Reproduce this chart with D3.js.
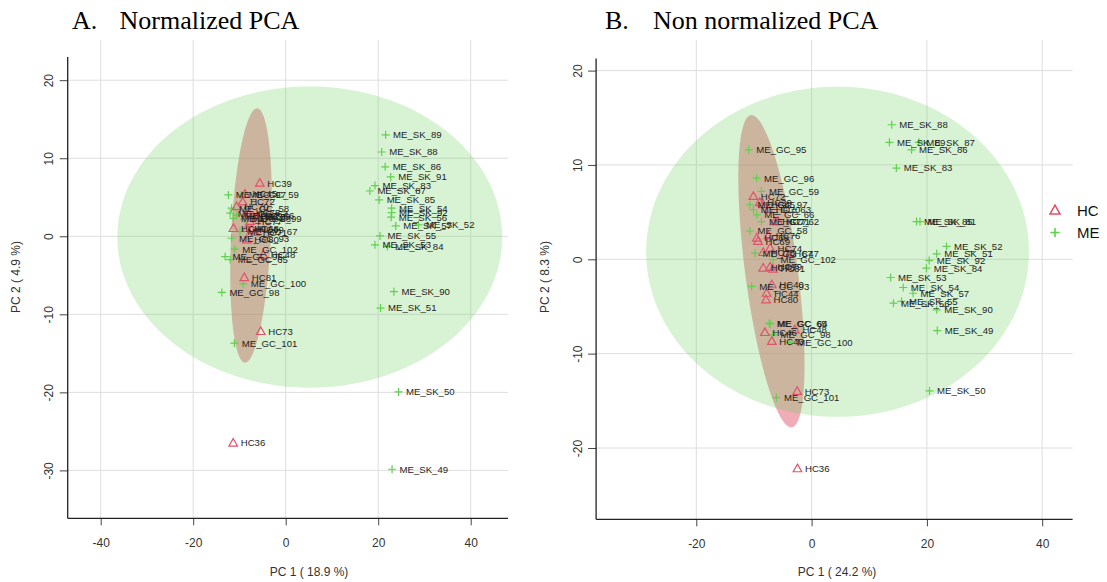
<!DOCTYPE html>
<html>
<head>
<meta charset="utf-8">
<script src="https://cdn.jsdelivr.net/npm/d3@7"></script>
<style>
body { margin: 0; background: #fff; }
svg { display: block; }
</style>
</head>
<body>
<svg id="chart" width="1107" height="582"></svg>
<script>
// ---- data ----
var titlesA = ["A.", "Normalized PCA"];
var titlesB = ["B.", "Non normalized PCA"];
var xLabelA = "PC 1 ( 18.9 %)", yLabelA = "PC 2 ( 4.9 %)";
var xLabelB = "PC 1 ( 24.2 %)", yLabelB = "PC 2 ( 8.3 %)";
var groups = ["HC", "ME"];

var xTicksA = [-40, -20, 0, 20, 40];
var yTicksA = [-30, -20, -10, 0, 10, 20];
var xTicksB = [-20, 0, 20, 40];
var yTicksB = [-20, -10, 0, 10, 20];

// [name, PC1, PC2]
var hcA = [
  ["HC39", -5.6, 6.8], ["HC45", -8.8, 5.4], ["HC72", -9.3, 4.4], ["HC70", -10.6, 3.8],
  ["HC75", -8.1, 3.0], ["HC76", -7.0, 2.5], ["HC77", -7.7, 1.9], ["HC79", -5.9, 2.5],
  ["HC44", -8.6, 2.6], ["HC40", -11.3, 1.0], ["HC68", -8.4, 1.0], ["HC69", -7.35, 0.8],
  ["HC71", -6.6, 0.5], ["HC80", -8.4, -0.46], ["HC48", -4.85, -2.4], ["HC81", -8.95, -5.3],
  ["HC73", -5.4, -12.2], ["HC36", -11.35, -26.5]
];
var meA = [
  ["ME_GC_97", -12.4, 5.3], ["ME_GC_59", -9.6, 5.3], ["ME_GC_58", -11.7, 3.6],
  ["ME_GC_62", -12.0, 2.96], ["ME_GC_63", -11.3, 2.3], ["ME_GC_66", -10.6, 2.7],
  ["ME_GC_99", -9.0, 2.2], ["ME_GC_67", -9.9, 0.6], ["ME_GC_93", -11.7, -0.25],
  ["ME_GC_102", -11.0, -1.65], ["ME_GC_96", -13.1, -2.6], ["ME_GC_65", -12.0, -3.0],
  ["ME_GC_100", -9.2, -6.1], ["ME_GC_98", -13.8, -7.2], ["ME_GC_101", -11.1, -13.7],
  ["ME_SK_89", 21.6, 13.0], ["ME_SK_88", 20.75, 10.8], ["ME_SK_86", 21.5, 8.9],
  ["ME_SK_91", 22.7, 7.6], ["ME_SK_83", 19.3, 6.5], ["ME_SK_87", 18.2, 5.8],
  ["ME_SK_85", 20.2, 4.66], ["ME_SK_54", 22.9, 3.6], ["ME_SK_92", 22.9, 3.03],
  ["ME_SK_56", 22.8, 2.45], ["ME_SK_52", 28.7, 1.46], ["ME_SK_57", 23.8, 1.33],
  ["ME_SK_55", 20.4, 0.05], ["ME_SK_53", 19.3, -1.1], ["ME_SK_84", 22.0, -1.3],
  ["ME_SK_90", 23.4, -7.1], ["ME_SK_51", 20.5, -9.2], ["ME_SK_50", 24.4, -19.95],
  ["ME_SK_49", 23.0, -29.85]
];
var hcB = [
  ["HC72", -10.1, 6.66], ["HC39", -9.0, 6.0], ["HC45", -8.4, 5.8], ["HC70", -7.5, 5.3],
  ["HC77", -6.4, 4.0], ["HC71", -5.8, 4.0], ["HC68", -9.5, 2.25], ["HC69", -9.3, 1.9],
  ["HC76", -7.5, 2.5], ["HC75", -8.4, 0.72], ["HC74", -7.2, 1.18], ["HC47", -4.3, 0.65],
  ["HC78", -8.4, -0.93], ["HC79", -7.2, -0.83], ["HC81", -6.7, -1.04], ["HC40", -6.9, -2.7],
  ["HC44", -7.8, -3.6], ["HC80", -7.9, -4.3], ["HC48", -2.9, -7.48], ["HC46", -8.1, -7.76],
  ["HC43", -6.9, -8.7], ["HC73", -2.5, -14.0], ["HC36", -2.45, -22.2]
];
var meB = [
  ["ME_GC_95", -10.9, 11.6], ["ME_GC_96", -9.54, 8.6], ["ME_GC_59", -8.7, 7.2],
  ["ME_GC_97", -10.7, 5.78], ["ME_GC_63", -10.1, 5.25], ["ME_GC_66", -9.5, 4.7],
  ["ME_GC_62", -8.7, 4.0], ["ME_GC_58", -10.7, 3.0], ["ME_GC_67", -9.8, 0.65],
  ["ME_GC_102", -6.7, -0.05], ["ME_GC_93", -10.4, -2.88], ["ME_GC_65", -7.35, -6.77],
  ["ME_GC_64", -7.2, -6.85], ["ME_GC_98", -6.7, -8.0], ["ME_GC_100", -3.8, -8.8],
  ["ME_GC_101", -6.1, -14.65],
  ["ME_SK_88", 13.9, 14.26], ["ME_SK_89", 13.5, 12.4], ["ME_SK_87", 18.6, 12.4],
  ["ME_SK_86", 17.35, 11.6], ["ME_SK_83", 14.7, 9.67], ["ME_SK_85", 18.2, 4.0],
  ["ME_SK_81", 18.8, 4.0], ["ME_SK_52", 23.4, 1.36], ["ME_SK_51", 21.7, 0.58],
  ["ME_SK_92", 20.4, -0.12], ["ME_SK_84", 19.9, -0.94], ["ME_SK_53", 13.7, -1.93],
  ["ME_SK_54", 15.9, -2.99], ["ME_SK_57", 17.6, -3.6], ["ME_SK_56", 14.2, -4.65],
  ["ME_SK_55", 15.6, -4.47], ["ME_SK_90", 21.7, -5.36], ["ME_SK_49", 21.8, -7.55],
  ["ME_SK_50", 20.45, -13.95]
];

// confidence ellipses: [cx, cy, ux, uy, vx, vy] (two conjugate semi-diameters)
var ellMEA = [5.2, -0.1, 0, 19.3, 41.6, 0];
var ellHCA = [-7.5, 0.1, 1.3, 16.3, 4.3, 0];
var ellMEB = [4.5, 0.8, 0, 17.5, 33.2, 0];
var ellHCB = [-6.97, -1.26, -3.44, 16.55, 4.6, 0];

var hcColor = "#df536b", meColor = "#61d04f";
var sans = "'Liberation Sans', Arial, sans-serif";
var serif = "'Liberation Serif', 'Times New Roman', serif";

var svg = d3.select("#chart");

function ellipsePts(e) {
  var pts = [];
  for (var i = 0; i < 144; i++) {
    var t = i / 144 * 2 * Math.PI;
    pts.push([e[0] + e[2] * Math.cos(t) + e[4] * Math.sin(t),
              e[1] + e[3] * Math.cos(t) + e[5] * Math.sin(t)]);
  }
  return pts;
}

var triPath = "M0,-4.6L4.3,3L-4.3,3Z";
var plusPath = "M-4,0H4M0,-4V4";

function drawPanel(p) {
  var x = p.x, y = p.y;
  var g = svg.append("g");

  // grid
  g.selectAll(".vgrid").data(p.xTicks).enter().append("line")
    .attr("x1", d => x(d)).attr("x2", d => x(d))
    .attr("y1", p.gridTop).attr("y2", p.bottom)
    .attr("stroke", "#dedede").attr("stroke-width", 1);
  g.selectAll(".hgrid").data(p.yTicks).enter().append("line")
    .attr("x1", p.left).attr("x2", p.right)
    .attr("y1", d => y(d)).attr("y2", d => y(d))
    .attr("stroke", "#dedede").attr("stroke-width", 1);

  // ellipses (HC first, the ME one is laid over it)
  var line = d3.line().x(d => x(d[0])).y(d => y(d[1])).curve(d3.curveLinearClosed);
  g.append("path").attr("d", line(ellipsePts(p.ellHC)))
    .attr("fill", hcColor).attr("fill-opacity", 0.48);
  g.append("path").attr("d", line(ellipsePts(p.ellME)))
    .attr("fill", meColor).attr("fill-opacity", 0.25);

  // axes
  var fmt = d => String(d);
  var xa = g.append("g").attr("transform", "translate(0," + p.bottom + ")")
    .call(d3.axisBottom(x).tickValues(p.xTicks).tickFormat(fmt).tickSize(7).tickPadding(13));
  var ya = g.append("g").attr("transform", "translate(" + p.left + ",0)")
    .call(d3.axisLeft(y).tickValues(p.yTicks).tickFormat(fmt).tickSize(8));
  [xa, ya].forEach(function(a) {
    a.select(".domain").remove();
    a.selectAll(".tick line").attr("stroke", "#444");
    a.selectAll(".tick text").attr("fill", "#333")
      .style("font-family", sans).style("font-size", "12px");
  });
  ya.selectAll(".tick text")
    .attr("transform", "rotate(-90)")
    .attr("x", 0).attr("y", -14.5).attr("dy", 0)
    .attr("text-anchor", "middle");
  g.append("line").attr("x1", p.left).attr("x2", p.right)
    .attr("y1", p.bottom).attr("y2", p.bottom)
    .attr("stroke", "#222").attr("stroke-width", 1.3);
  g.append("line").attr("x1", p.left).attr("x2", p.left)
    .attr("y1", p.top).attr("y2", p.bottom)
    .attr("stroke", "#222").attr("stroke-width", 1.3);

  // axis titles
  g.append("text").attr("x", p.xTitleX).attr("y", 576)
    .attr("text-anchor", "middle").attr("fill", "#333")
    .style("font-family", sans).style("font-size", "12px").text(p.xLabel);
  g.append("text")
    .attr("transform", "translate(" + p.yTitleX + ",277) rotate(-90)")
    .attr("text-anchor", "middle").attr("fill", "#333")
    .style("font-family", sans).style("font-size", "12px").text(p.yLabel);

  // panel title
  g.append("text").attr("x", p.titleX[0]).attr("y", 29)
    .style("font-family", serif).style("font-size", "26px").text(p.title[0]);
  g.append("text").attr("x", p.titleX[1]).attr("y", 29)
    .style("font-family", serif).style("font-size", "26px").text(p.title[1]);

  // points
  g.selectAll(".me").data(p.me).enter().append("path")
    .attr("transform", d => "translate(" + x(d[1]) + "," + y(d[2]) + ")")
    .attr("d", plusPath).attr("fill", "none")
    .attr("stroke", meColor).attr("stroke-width", 1.2);
  g.selectAll(".hc").data(p.hc).enter().append("path")
    .attr("transform", d => "translate(" + x(d[1]) + "," + y(d[2]) + ")")
    .attr("d", triPath).attr("fill", "none")
    .attr("stroke", hcColor).attr("stroke-width", 1.2);

  // labels
  g.selectAll(".lab").data(p.hc.concat(p.me)).enter().append("text")
    .attr("x", d => x(d[1]) + 7.5).attr("y", d => y(d[2]))
    .attr("dy", "0.35em").attr("fill", "#1e1e1e")
    .style("font-family", sans).style("font-size", "9.6px")
    .text(d => d[0]);
}

drawPanel({
  x: d3.scaleLinear().domain([-40, 40]).range([100.7, 470.7]),
  y: d3.scaleLinear().domain([-30, 20]).range([470.4, 80.2]),
  left: 67.7, right: 508, top: 57, gridTop: 40, bottom: 518.3,
  xTicks: xTicksA, yTicks: yTicksA,
  ellME: ellMEA, ellHC: ellHCA, hc: hcA, me: meA,
  xLabel: xLabelA, yLabel: yLabelA, xTitleX: 309, yTitleX: 20,
  title: titlesA, titleX: [72, 119.5]
});

drawPanel({
  x: d3.scaleLinear().domain([-20, 40]).range([696.3, 1042.2]),
  y: d3.scaleLinear().domain([-20, 20]).range([448, 70.6]),
  left: 596.1, right: 1072.6, top: 58.4, gridTop: 40, bottom: 519.3,
  xTicks: xTicksB, yTicks: yTicksB,
  ellME: ellMEB, ellHC: ellHCB, hc: hcB, me: meB,
  xLabel: xLabelB, yLabel: yLabelB, xTitleX: 837, yTitleX: 549,
  title: titlesB, titleX: [605, 653]
});

// legend
var legend = svg.append("g").attr("transform", "translate(1055,0)");
legend.selectAll("path").data(groups).enter().append("path")
  .attr("transform", (d, i) => "translate(0," + (210.5 + i * 22) + ") scale(1.15)")
  .attr("d", (d, i) => i === 0 ? triPath : plusPath)
  .attr("fill", "none")
  .attr("stroke", (d, i) => i === 0 ? hcColor : meColor)
  .attr("stroke-width", 1.4);
legend.selectAll("text").data(groups).enter().append("text")
  .attr("x", 22).attr("y", (d, i) => 210.5 + i * 22).attr("dy", "0.36em")
  .style("font-family", sans).style("font-size", "15px").attr("fill", "#111")
  .text(d => d);
</script>
</body>
</html>
